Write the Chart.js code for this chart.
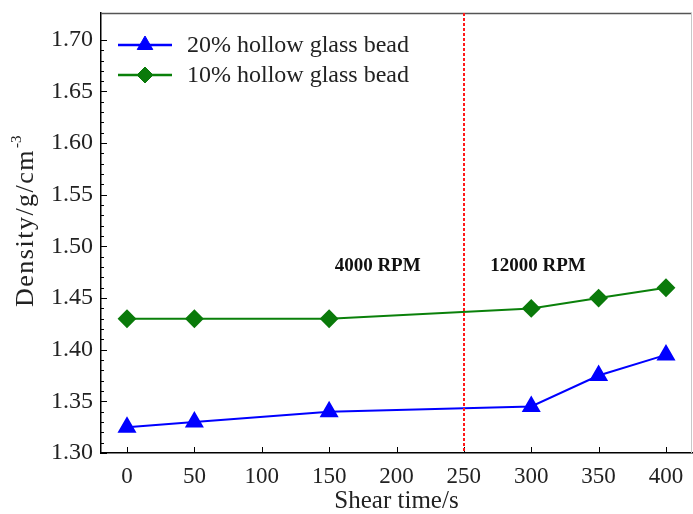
<!DOCTYPE html>
<html><head><meta charset="utf-8">
<script src="https://cdn.jsdelivr.net/npm/chart.js@4/dist/chart.umd.min.js"></script>
<style>html,body{margin:0;padding:0;background:#fff}#wrap{width:693px;height:514px}</style>
</head><body><div id="wrap"><canvas id="c" width="693" height="514"></canvas></div>
<script>
const shearTime = [0, 50, 150, 300, 350, 400];
const density20 = [1.325, 1.330, 1.340, 1.345, 1.375, 1.395];
const density10 = [1.430, 1.430, 1.430, 1.440, 1.450, 1.460];
const seriesLabels = ['20% hollow glass bead', '10% hollow glass bead'];
const xTicks = [0, 50, 100, 150, 200, 250, 300, 350, 400];
const yTicks = [1.30, 1.35, 1.40, 1.45, 1.50, 1.55, 1.60, 1.65, 1.70];
const speedBoundary = 250;
const regionLabels = [{x: 186, y: 1.4805, text: '4000 RPM'}, {x: 305, y: 1.4805, text: '12000 RPM'}];

const SERIF = '"Liberation Serif", "Times New Roman", serif';

const extras = {
  id: 'extras',
  afterDraw(chart) {
    const ctx = chart.ctx, xs = chart.scales.x, ys = chart.scales.y, a = chart.chartArea;
    ctx.save();
    // frame top/right
    ctx.strokeStyle = '#555'; ctx.lineWidth = 1.5;
    ctx.beginPath(); ctx.moveTo(a.left, a.top + 0.5); ctx.lineTo(a.right, a.top + 0.5); ctx.stroke();
    ctx.strokeStyle = '#c8c8c8'; ctx.lineWidth = 1;
    ctx.beginPath(); ctx.moveTo(a.right - 0.5, a.top); ctx.lineTo(a.right - 0.5, a.bottom); ctx.stroke();
    // inward ticks
    ctx.strokeStyle = '#000'; ctx.lineWidth = 1;
    xTicks.forEach(v => { const px = Math.round(xs.getPixelForValue(v)) + 0.5;
      ctx.beginPath(); ctx.moveTo(px, a.bottom); ctx.lineTo(px, a.bottom - 6); ctx.stroke(); });
    for (let i = 0; i <= 40; i++) { const v = 1.30 + i * 0.01; const py = Math.round(ys.getPixelForValue(v)) + 0.5;
      const len = (i % 5 === 0) ? 6 : 3;
      ctx.beginPath(); ctx.moveTo(a.left, py); ctx.lineTo(a.left + len, py); ctx.stroke(); }
    // boundary line
    const bx = Math.round(xs.getPixelForValue(speedBoundary));
    ctx.strokeStyle = '#ff1a1a'; ctx.lineWidth = 2; ctx.setLineDash([3, 2]);
    ctx.beginPath(); ctx.moveTo(bx, a.top); ctx.lineTo(bx, a.bottom); ctx.stroke();
    ctx.setLineDash([]);
    // region labels
    ctx.fillStyle = '#111'; ctx.font = 'bold 19px ' + SERIF; ctx.textAlign = 'center'; ctx.textBaseline = 'middle';
    regionLabels.forEach(r => ctx.fillText(r.text, xs.getPixelForValue(r.x), ys.getPixelForValue(r.y)));
    // legend
    const rows = [45, 75];
    chart.data.datasets.forEach((ds, i) => {
      const y = rows[i];
      ctx.strokeStyle = ds.borderColor; ctx.lineWidth = 2.5;
      ctx.beginPath(); ctx.moveTo(118, y); ctx.lineTo(172, y); ctx.stroke();
      ctx.fillStyle = ds.pointBackgroundColor; ctx.strokeStyle = ds.pointBorderColor; ctx.lineWidth = 1;
      Chart.helpers.drawPoint(ctx, {pointStyle: ds.pointStyle, radius: ds.pointRadius, borderWidth: 1}, 145, y);
      ctx.fillStyle = '#222'; ctx.font = '24px ' + SERIF; ctx.textAlign = 'left'; ctx.textBaseline = 'middle';
      ctx.fillText(ds.label, 187, y + 1);
    });
    // y title with superscript
    ctx.save();
    ctx.translate(26, 307);
    ctx.rotate(-Math.PI / 2);
    ctx.fillStyle = '#222';
    ctx.letterSpacing = '1.5px';
    ctx.textAlign = 'left'; ctx.textBaseline = 'middle';
    const main = 'Density/g/cm';
    ctx.font = '26px ' + SERIF; const w1 = ctx.measureText(main).width;
    ctx.fillText(main, 0, 0);
    ctx.letterSpacing = '0px';
    ctx.font = '15px ' + SERIF; ctx.fillText('-3', w1 + 1, -9);
    ctx.restore();
    ctx.restore();
  }
};

new Chart(document.getElementById('c'), {
  type: 'line',
  data: {
    datasets: [
      { label: seriesLabels[0], data: shearTime.map((t, i) => ({x: t, y: density20[i]})),
        borderColor: '#0000ff', backgroundColor: '#0000ff', pointBackgroundColor: '#0000ff', pointBorderColor: '#0000ff',
        pointStyle: 'triangle', pointRadius: 9, borderWidth: 2, tension: 0 },
      { label: seriesLabels[1], data: shearTime.map((t, i) => ({x: t, y: density10[i]})),
        borderColor: '#0a800a', backgroundColor: '#0a800a', pointBackgroundColor: '#0a7a0a', pointBorderColor: '#0a7a0a',
        pointStyle: 'rectRot', pointRadius: 8, borderWidth: 2, tension: 0 }
    ]
  },
  options: {
    responsive: false, animation: false, devicePixelRatio: 1,
    layout: { autoPadding: false, padding: { top: 13, right: 1, left: 0, bottom: 0 } },
    plugins: { legend: { display: false }, tooltip: { enabled: false } },
    scales: {
      x: {
        type: 'linear', min: -19.3, max: 419.3,
        afterFit: s => { s.height = 61; s.paddingLeft = 0; s.paddingRight = 0; },
        afterBuildTicks: s => { s.ticks = xTicks.map(v => ({value: v})); },
        grid: { display: true, drawOnChartArea: false, drawTicks: false },
        border: { display: true, color: '#000', width: 1.5 },
        ticks: { color: '#222', font: { family: SERIF, size: 23 }, padding: 10, autoSkip: false, maxRotation: 0,
          callback: v => String(v) },
        title: { display: true, text: 'Shear time/s', color: '#222', font: { family: SERIF, size: 25, lineHeight: 1.0 }, padding: { top: 0, bottom: 0 } }
      },
      y: {
        min: 1.30, max: 1.726,
        afterFit: s => { s.width = 101; s.paddingTop = 0; s.paddingBottom = 0; },
        afterBuildTicks: s => { s.ticks = yTicks.map(v => ({value: v})); },
        grid: { display: true, drawOnChartArea: false, drawTicks: false },
        border: { display: true, color: '#000', width: 1.5 },
        ticks: { color: '#222', font: { family: SERIF, size: 24 }, padding: 8, callback: v => v.toFixed(2) }
      }
    }
  },
  plugins: [extras]
});
</script>
</body></html>
